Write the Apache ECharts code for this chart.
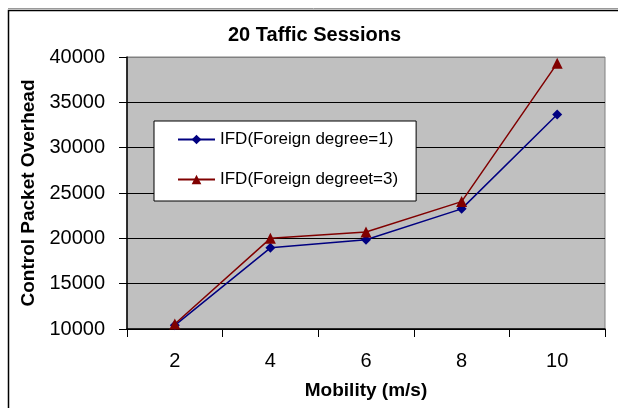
<!DOCTYPE html>
<html>
<head>
<meta charset="utf-8">
<script src="https://cdn.jsdelivr.net/npm/echarts@6/dist/echarts.min.js"></script>
<style>
  html, body { margin: 0; padding: 0; background: #fff; }
  #chart { width: 618px; height: 408px; }
</style>
</head>
<body>
<div id="chart"></div>
<script>
// Mobility speeds (m/s) on the x axis
const mobility = ['2', '4', '6', '8', '10'];
// Control packet overhead per foreign degree
const foreignDegree1 = [10400, 18950, 19850, 23250, 33650];
const foreignDegree3 = [10550, 20000, 20700, 24050, 39300];
// Value axis range
const yMin = 10000;
const yMax = 40000;
const yStep = 5000;

const FONT = '"Liberation Sans", Arial, sans-serif';

const chart = echarts.init(document.getElementById('chart'), null, { renderer: 'canvas' });

chart.setOption({
  animation: false,
  backgroundColor: '#ffffff',
  title: {
    text: '20 Taffic Sessions',
    left: 228,
    top: 25,
    padding: 0,
    textStyle: { fontFamily: FONT, fontSize: 20, fontWeight: 'bold', color: '#000' }
  },
  graphic: [
    { type: 'line', shape: { x1: 8, y1: 8.5, x2: 640, y2: 8.5 }, style: { stroke: '#9a9a9a', lineWidth: 1 }, silent: true },
    { type: 'rect', shape: { x: 8.5, y: 10.5, width: 700, height: 500 }, style: { fill: null, stroke: '#000', lineWidth: 1.5 }, silent: true }
  ],
  grid: {
    left: 127,
    right: 13,
    top: 57,
    bottom: 79,
    show: true,
    backgroundColor: '#c0c0c0',
    borderColor: '#808080',
    borderWidth: 1
  },
  legend: {
    orient: 'vertical',
    left: 154,
    top: 121,
    padding: [10, 18, 13, 23],
    itemGap: 23,
    itemWidth: 37,
    itemHeight: 12,
    backgroundColor: '#ffffff',
    borderColor: '#000000',
    borderWidth: 1,
    textStyle: { fontFamily: FONT, fontSize: 17, color: '#000', padding: [0, 0, 0, 0] },
    data: ['IFD(Foreign degree=1)', 'IFD(Foreign degreet=3)']
  },
  xAxis: {
    type: 'category',
    data: mobility,
    boundaryGap: true,
    name: 'Mobility (m/s)',
    nameLocation: 'middle',
    nameGap: 52,
    nameTextStyle: { fontFamily: FONT, fontSize: 19, fontWeight: 'bold', color: '#000' },
    axisLine: { show: true, lineStyle: { color: '#000', width: 1.5 } },
    axisTick: { show: true, inside: false, length: 8, lineStyle: { color: '#000' } },
    axisLabel: { fontFamily: FONT, fontSize: 20, color: '#000', margin: 22 },
    splitLine: { show: false }
  },
  yAxis: {
    type: 'value',
    min: yMin,
    max: yMax,
    interval: yStep,
    name: 'Control Packet Overhead',
    nameLocation: 'middle',
    nameGap: 89,
    nameTextStyle: { fontFamily: FONT, fontSize: 19, fontWeight: 'bold', color: '#000' },
    axisLine: { show: true, lineStyle: { color: '#000', width: 1.5 } },
    axisTick: { show: true, inside: false, length: 8, lineStyle: { color: '#000' } },
    axisLabel: {
      fontFamily: FONT, fontSize: 20, color: '#000', margin: 22,
      formatter: (v) => String(v)
    },
    splitLine: {
      show: true,
      lineStyle: { color: ['#000', '#000', '#000', '#000', '#000', '#000', '#808080'], width: 1 }
    }
  },
  series: [
    {
      name: 'IFD(Foreign degree=1)',
      type: 'line',
      data: foreignDegree1,
      symbol: 'diamond',
      symbolSize: 10,
      lineStyle: { color: '#000080', width: 1.5 },
      itemStyle: { color: '#000080' }
    },
    {
      name: 'IFD(Foreign degreet=3)',
      type: 'line',
      data: foreignDegree3,
      symbol: 'triangle',
      symbolSize: 11,
      lineStyle: { color: '#800000', width: 1.5 },
      itemStyle: { color: '#800000' }
    }
  ]
});
</script>
</body>
</html>
